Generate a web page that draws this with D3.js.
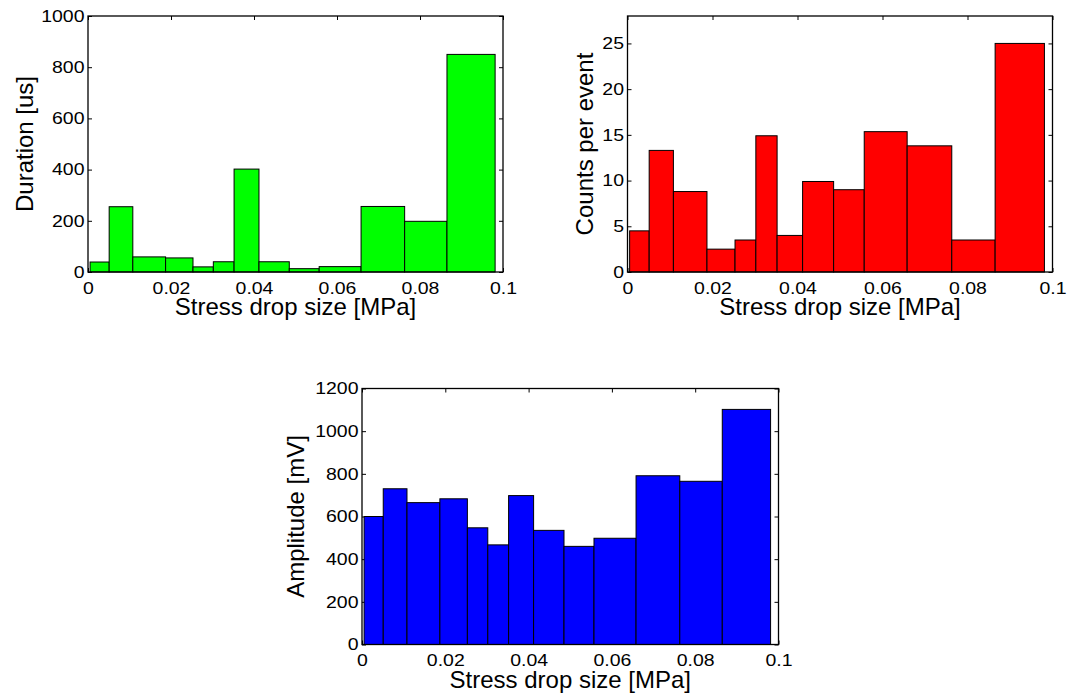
<!DOCTYPE html>
<html>
<head>
<meta charset="utf-8">
<script src="https://cdn.jsdelivr.net/npm/d3@7"></script>
<style>
  html, body { margin: 0; padding: 0; background: #fff; }
  svg { display: block; }
  .tick text { font-family: "Liberation Sans", Arial, sans-serif; font-size: 16.5px; fill: #000; }
  .title { font-family: "Liberation Sans", Arial, sans-serif; font-size: 24px; fill: #000; }
</style>
</head>
<body>
<svg id="fig" width="1071" height="693"></svg>
<script>
// Histogram bin edges (stress drop size, MPa) shared by all three panels
const binEdges = [0.0005, 0.0051, 0.0108, 0.0187, 0.0253, 0.0302, 0.0352,
                  0.0412, 0.0485, 0.0557, 0.0658, 0.0763, 0.0865, 0.0981];

// Mean value per bin
const durationValues  = [39, 255, 59, 55, 20, 40, 402, 40, 13, 21, 256, 198, 850];
const countValues     = [4.5, 13.3, 8.8, 2.5, 3.5, 14.9, 4.0, 9.9, 9.0, 15.35, 13.8, 3.5, 25.0];
const amplitudeValues = [600, 730, 665, 683, 547, 467, 698, 535, 460, 498, 791, 765, 1102];

// Tick values
const xTickValues     = [0, 0.02, 0.04, 0.06, 0.08, 0.1];
const durationTicks   = [0, 200, 400, 600, 800, 1000];
const countTicks      = [0, 5, 10, 15, 20, 25];
const amplitudeTicks  = [0, 200, 400, 600, 800, 1000, 1200];

const xTitle = "Stress drop size [MPa]";

const panels = [
  { values: durationValues, ticks: durationTicks, yMax: 1000, color: "#00ff00",
    yTitle: "Duration [us]", box: { x0: 88, x1: 503, y0: 16, y1: 272 }, yTitleX: 33 },
  { values: countValues, ticks: countTicks, yMax: 28, color: "#ff0000",
    yTitle: "Counts per event", box: { x0: 627.5, x1: 1052.5, y0: 16, y1: 272 }, yTitleX: 593 },
  { values: amplitudeValues, ticks: amplitudeTicks, yMax: 1200, color: "#0000ff",
    yTitle: "Amplitude [mV]", box: { x0: 362, x1: 778.5, y0: 388.5, y1: 644.5 }, yTitleX: 304 }
];

const svg = d3.select("#fig");
const fmt = v => String(+v.toFixed(4));
const stretch = "scale(1.18,1)";

panels.forEach(p => {
  const b = p.box;
  const x = d3.scaleLinear().domain([0, 0.1]).range([b.x0, b.x1]);
  const y = d3.scaleLinear().domain([0, p.yMax]).range([b.y1, b.y0]);
  const g = svg.append("g");

  // Inward ticks on all four sides (drawn beneath the bars)
  const left = g.append("g").attr("transform", `translate(${b.x0},0)`)
    .call(d3.axisLeft(y).tickValues(p.ticks).tickSize(-4).tickPadding(3).tickFormat(fmt));
  const right = g.append("g").attr("transform", `translate(${b.x1},0)`)
    .call(d3.axisRight(y).tickValues(p.ticks).tickSize(-4).tickFormat(""));
  const bottom = g.append("g").attr("transform", `translate(0,${b.y1})`)
    .call(d3.axisBottom(x).tickValues(xTickValues).tickSize(-4).tickPadding(10).tickFormat(fmt));
  const top = g.append("g").attr("transform", `translate(0,${b.y0})`)
    .call(d3.axisTop(x).tickValues(xTickValues).tickSize(-4).tickFormat(""));

  [left, right, bottom, top].forEach(a => {
    a.select(".domain").remove();
    a.selectAll(".tick line").attr("stroke", "#000").attr("stroke-width", 1);
  });
  left.selectAll(".tick text").attr("transform", stretch);
  bottom.selectAll(".tick text").attr("transform", stretch);

  // Bars
  const bins = p.values.map((v, i) => ({ lo: binEdges[i], hi: binEdges[i + 1], v }));
  g.append("g").selectAll("rect").data(bins).join("rect")
    .attr("x", d => x(d.lo))
    .attr("width", d => x(d.hi) - x(d.lo))
    .attr("y", d => y(d.v))
    .attr("height", d => y(0) - y(d.v))
    .attr("fill", p.color)
    .attr("stroke", "#000")
    .attr("stroke-width", 1);

  // Axes box
  g.append("rect")
    .attr("x", b.x0).attr("y", b.y0)
    .attr("width", b.x1 - b.x0).attr("height", b.y1 - b.y0)
    .attr("fill", "none").attr("stroke", "#000").attr("stroke-width", 1.3);

  // Titles
  g.append("text").attr("class", "title")
    .attr("x", (b.x0 + b.x1) / 2).attr("y", b.y1 + 43)
    .attr("text-anchor", "middle").text(xTitle);
  g.append("text").attr("class", "title")
    .attr("transform", `translate(${p.yTitleX},${(b.y0 + b.y1) / 2}) rotate(-90)`)
    .attr("text-anchor", "middle").text(p.yTitle);
});
</script>
</body>
</html>
